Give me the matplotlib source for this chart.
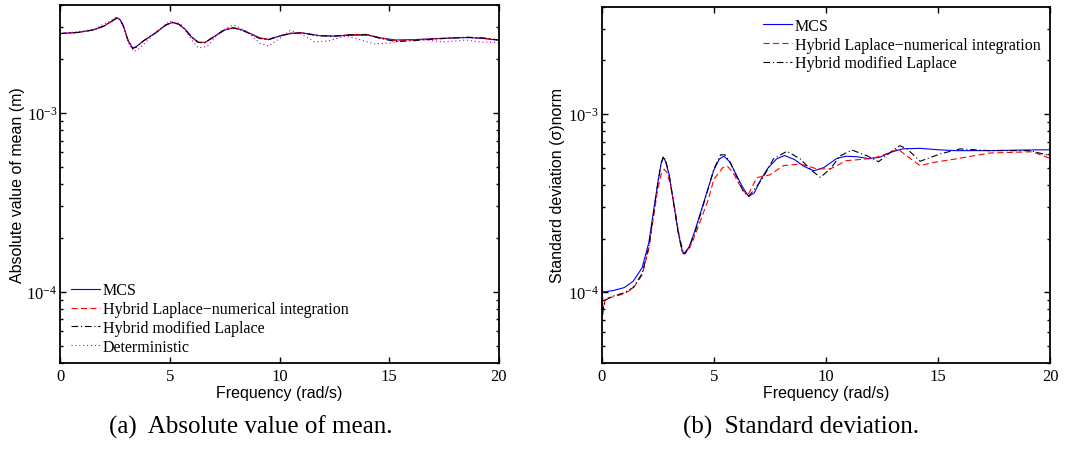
import numpy as np
import matplotlib
matplotlib.use("Agg")
from matplotlib import pyplot as plt

plt.rcParams['font.family'] = ['Liberation Serif', 'DejaVu Serif']
plt.rcParams['mathtext.fontset'] = 'stix'

## (a) absolute value of the mean
f_mcs = [0, 0.8, 1.5, 2.0, 2.35, 2.6, 2.75, 2.9, 3.1, 3.3, 3.45, 3.8, 4.4, 4.8, 5.1, 5.4, 5.7, 6.0, 6.3,
         6.6, 7.1, 7.5, 7.9, 8.3, 8.7, 9.1, 9.5, 10.0, 10.5, 11.0, 11.8, 12.5, 13.2, 14.0, 14.6, 15.3,
         16.0, 17.0, 18.0, 18.6, 19.3, 20.0]
mean_mcs = [2.77e-3, 2.81e-3, 2.90e-3, 3.05e-3, 3.24e-3, 3.39e-3, 3.30e-3, 3.02e-3, 2.54e-3, 2.31e-3,
            2.33e-3, 2.52e-3, 2.82e-3, 3.08e-3, 3.19e-3, 3.13e-3, 2.93e-3, 2.65e-3, 2.48e-3, 2.47e-3,
            2.70e-3, 2.90e-3, 2.98e-3, 2.90e-3, 2.76e-3, 2.62e-3, 2.57e-3, 2.68e-3, 2.77e-3, 2.80e-3,
            2.70e-3, 2.68e-3, 2.71e-3, 2.72e-3, 2.62e-3, 2.55e-3, 2.56e-3, 2.59e-3, 2.62e-3, 2.63e-3,
            2.60e-3, 2.54e-3]
mean_hln = [2.77e-3, 2.81e-3, 2.90e-3, 3.05e-3, 3.25e-3, 3.40e-3, 3.31e-3, 3.02e-3, 2.53e-3, 2.30e-3,
            2.32e-3, 2.52e-3, 2.83e-3, 3.09e-3, 3.21e-3, 3.14e-3, 2.93e-3, 2.64e-3, 2.47e-3, 2.47e-3,
            2.71e-3, 2.91e-3, 2.99e-3, 2.90e-3, 2.75e-3, 2.61e-3, 2.57e-3, 2.69e-3, 2.78e-3, 2.80e-3,
            2.70e-3, 2.69e-3, 2.73e-3, 2.74e-3, 2.62e-3, 2.53e-3, 2.55e-3, 2.59e-3, 2.63e-3, 2.64e-3,
            2.61e-3, 2.55e-3]
mean_hml = [2.77e-3, 2.81e-3, 2.90e-3, 3.05e-3, 3.24e-3, 3.39e-3, 3.30e-3, 3.02e-3, 2.53e-3, 2.29e-3,
            2.32e-3, 2.52e-3, 2.82e-3, 3.08e-3, 3.20e-3, 3.13e-3, 2.92e-3, 2.64e-3, 2.47e-3, 2.46e-3,
            2.71e-3, 2.91e-3, 2.98e-3, 2.89e-3, 2.75e-3, 2.60e-3, 2.56e-3, 2.68e-3, 2.78e-3, 2.79e-3,
            2.69e-3, 2.68e-3, 2.73e-3, 2.73e-3, 2.60e-3, 2.50e-3, 2.52e-3, 2.58e-3, 2.62e-3, 2.64e-3,
            2.62e-3, 2.55e-3]
f_det = [0, 1.5, 2.3, 2.6, 2.9, 3.1, 3.35, 3.6, 4.4, 5.0, 5.5, 6.0, 6.3, 6.7, 7.3, 7.9, 8.5, 9.1, 9.5,
         10.0, 10.5, 11.0, 11.6, 12.2, 13.0, 13.5, 14.3, 15.0, 15.5, 16.5, 17.5, 18.5, 19.2, 20.0]
mean_det = [2.77e-3, 2.91e-3, 3.27e-3, 3.45e-3, 3.05e-3, 2.48e-3, 2.20e-3, 2.28e-3, 2.84e-3, 3.25e-3,
            3.15e-3, 2.55e-3, 2.30e-3, 2.35e-3, 2.85e-3, 3.10e-3, 2.85e-3, 2.45e-3, 2.36e-3, 2.60e-3,
            2.89e-3, 2.75e-3, 2.49e-3, 2.52e-3, 2.68e-3, 2.60e-3, 2.43e-3, 2.45e-3, 2.52e-3, 2.56e-3,
            2.49e-3, 2.55e-3, 2.48e-3, 2.47e-3]

## (b) standard deviation
f_sd_mcs = [0.0, 0.5, 1.0, 1.4, 1.8, 2.1, 2.3, 2.5, 2.65, 2.75, 2.85, 3.0, 3.2, 3.4, 3.6, 3.7, 3.9, 4.15,
            4.6, 5.0, 5.25, 5.45, 5.7, 5.95, 6.25, 6.55, 6.8, 7.1, 7.4, 7.8, 8.15, 8.6, 9.0, 9.45, 9.9,
            10.5, 10.9, 11.4, 11.9, 12.4, 12.9, 13.4, 14.2, 15.0, 15.8, 17.3, 18.8, 20.0]
sd_mcs = [1.00e-4, 1.02e-4, 1.06e-4, 1.15e-4, 1.37e-4, 1.9e-4, 2.8e-4, 4.1e-4, 5.3e-4, 5.7e-4, 5.4e-4,
          4.6e-4, 3.2e-4, 2.2e-4, 1.68e-4, 1.66e-4, 1.8e-4, 2.2e-4, 3.35e-4, 4.85e-4, 5.6e-4, 5.8e-4,
          5.4e-4, 4.7e-4, 3.95e-4, 3.45e-4, 3.6e-4, 4.3e-4, 4.95e-4, 5.6e-4, 5.85e-4, 5.55e-4, 5.1e-4,
          4.8e-4, 5.0e-4, 5.65e-4, 5.8e-4, 5.75e-4, 5.62e-4, 5.72e-4, 6.1e-4, 6.37e-4, 6.42e-4, 6.3e-4,
          6.23e-4, 6.23e-4, 6.28e-4, 6.3e-4]
f_sd_hln = [0.0, 0.05, 0.15, 0.5, 1.0, 1.4, 1.8, 2.1, 2.3, 2.5, 2.65, 2.78, 2.9, 3.05, 3.25, 3.45, 3.65,
            3.75, 3.95, 4.2, 4.75, 5.0, 5.4, 5.6, 5.85, 6.1, 6.5, 6.92, 7.5, 8.1, 8.85, 9.6, 10.2, 10.9,
            12.1, 12.9, 13.2, 13.6, 14.2, 14.8, 15.8, 17.3, 19.2, 20.0]
sd_hln = [2.0e-4, 7.5e-5, 9.2e-5, 9.4e-5, 9.8e-5, 1.05e-4, 1.25e-4, 1.75e-4, 2.6e-4, 3.8e-4, 4.6e-4,
          4.9e-4, 4.7e-4, 4.1e-4, 3.0e-4, 2.1e-4, 1.65e-4, 1.66e-4, 1.8e-4, 2.15e-4, 3.3e-4, 4.3e-4,
          5.0e-4, 5.1e-4, 4.7e-4, 4.1e-4, 3.47e-4, 4.4e-4, 4.55e-4, 5.13e-4, 5.24e-4, 4.92e-4, 4.92e-4,
          5.47e-4, 5.64e-4, 6.1e-4, 6.37e-4, 5.83e-4, 5.13e-4, 5.35e-4, 5.6e-4, 6.04e-4, 6.14e-4,
          5.64e-4]
f_sd_hml = [0.0, 0.05, 0.15, 0.5, 1.0, 1.4, 1.8, 2.1, 2.3, 2.5, 2.65, 2.75, 2.85, 3.0, 3.2, 3.4, 3.6,
            3.7, 3.9, 4.15, 4.6, 5.0, 5.3, 5.5, 5.75, 6.0, 6.3, 6.55, 6.9, 7.2, 7.66, 8.26, 8.85, 9.37,
            9.75, 10.19, 10.64, 11.16, 11.83, 12.35, 13.02, 13.3, 13.62, 14.2, 15.09, 15.98, 17.3, 19.1,
            20.0]
sd_hml = [1.0e-4, 8.0e-5, 9.0e-5, 9.5e-5, 9.9e-5, 1.06e-4, 1.27e-4, 1.8e-4, 2.7e-4, 4.1e-4, 5.3e-4,
          5.8e-4, 5.5e-4, 4.6e-4, 3.2e-4, 2.2e-4, 1.65e-4, 1.64e-4, 1.78e-4, 2.15e-4, 3.3e-4, 4.9e-4,
          5.9e-4, 5.9e-4, 5.3e-4, 4.5e-4, 3.7e-4, 3.45e-4, 3.9e-4, 4.41e-4, 5.6e-4, 6.18e-4, 5.6e-4,
          4.81e-4, 4.41e-4, 4.92e-4, 5.83e-4, 6.28e-4, 5.83e-4, 5.4e-4, 6.3e-4, 6.64e-4, 6.37e-4,
          5.43e-4, 5.97e-4, 6.37e-4, 6.23e-4, 6.23e-4, 5.83e-4]

labels = ['MCS', 'Hybrid Laplace\u2212numerical integration', 'Hybrid modified Laplace', 'Deterministic']
xticks = [0, 5, 10, 15, 20]
sans = ['Liberation Sans', 'DejaVu Sans']

fig = plt.figure(figsize=(10.66, 4.52), dpi=100)
ax1 = fig.add_axes([0.0563, 0.1947, 0.4118, 0.792])
ax2 = fig.add_axes([0.5645, 0.1947, 0.4206, 0.788])

lw = 0.8
ax1.plot(f_mcs, mean_mcs, color='b', lw=lw, label=labels[0])
ax1.plot(f_mcs, mean_hln, color='r', lw=lw, dashes=(5.5, 3), label=labels[1])
ax1.plot(f_mcs, mean_hml, color='k', lw=lw, dashes=(6, 2.5, 1, 2.5), label=labels[2])
ax1.plot(f_det, mean_det, color='m', lw=lw, dashes=(1, 2.5), label=labels[3])

ax2.plot(f_sd_mcs, sd_mcs, color='b', lw=lw, label=labels[0])
ax2.plot(f_sd_hln, sd_hln, color='r', lw=lw, dashes=(5.5, 3), label=labels[1])
ax2.plot(f_sd_hml, sd_hml, color='k', lw=lw, dashes=(6, 2.5, 1, 2.5), label=labels[2])

for ax in (ax1, ax2):
    ax.set_yscale('log')
    ax.set_xlim(0, 20)
    ax.set_ylim(4e-5, 4e-3)
    ax.set_xticks(xticks)
    ax.tick_params(which='both', direction='in', top=True, right=True, labelsize=12, width=1)
    ax.tick_params(which='major', length=4)
    ax.tick_params(which='minor', length=2.5)
    ax.tick_params(axis='y', which='both', pad=2)
    for s in ax.spines.values():
        s.set_linewidth(1.3)
    ax.set_xlabel('Frequency (rad/s)', family=sans, fontsize=11.5, labelpad=1)

ax1.set_ylabel('Absolute value of mean (m)', family=sans, fontsize=11.5)
ax2.set_ylabel('Standard deviation (\u03c3)norm', family=sans, fontsize=11.5)
ax1.yaxis.set_label_coords(-0.08, 0.5)
ax2.yaxis.set_label_coords(-0.082, 0.5)

leg_kw = dict(frameon=False, fontsize=11.5, handlelength=1.8, handletextpad=0.2,
              labelspacing=0.17, borderaxespad=0)
ax1.legend(loc='lower left', bbox_to_anchor=(0.0105, 0.0056), **leg_kw)
ax2.legend(loc='upper left', bbox_to_anchor=(0.345, 0.987), **leg_kw)

fig.text(0.235, 0.055, '(a)  Absolute value of mean.', ha='center', va='center', fontsize=18)
fig.text(0.751, 0.055, '(b)  Standard deviation.', ha='center', va='center', fontsize=18)

fig.savefig('out.png', dpi=100)
